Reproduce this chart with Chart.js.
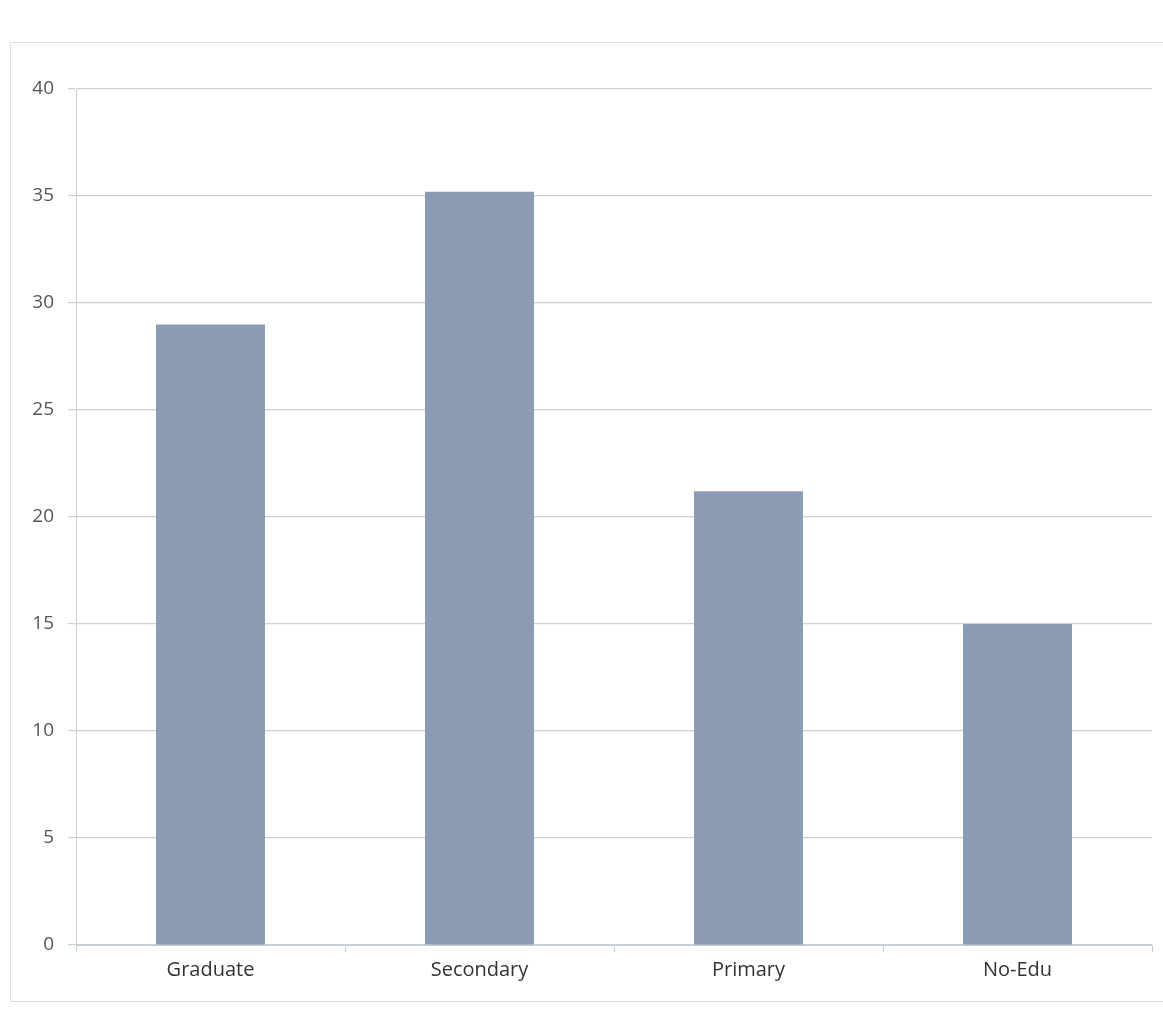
<!DOCTYPE html>
<html>
<head>
<meta charset="utf-8">
<script src="https://cdn.jsdelivr.net/npm/chart.js@4"></script>
<style>
  html, body { margin: 0; padding: 0; background: #ffffff; }
  #wrap { position: relative; width: 1163px; height: 1009px; }
  #frame { position: absolute; left: 10px; top: 42px; width: 1160px; height: 958px;
           border-left: 1px solid #dde2e6; border-top: 1px solid #dde2e6; border-bottom: 1px solid #d5dade;
           pointer-events: none; }
  canvas { position: absolute; left: 0; top: 0; }
</style>
</head>
<body>
<div id="wrap">
  <canvas id="c" width="1163" height="1009"></canvas>
  <div id="frame"></div>
</div>
<script>
const categories = ["Graduate", "Secondary", "Primary", "No-Edu"];
const values = [29.0, 35.2, 21.2, 15.0];
const yTicks = [0, 5, 10, 15, 20, 25, 30, 35, 40];

new Chart(document.getElementById('c'), {
  type: 'bar',
  data: {
    labels: categories,
    datasets: [{
      data: values,
      backgroundColor: '#8b9bb3',
      borderWidth: 0,
      categoryPercentage: 1.0,
      barPercentage: 0.405
    }]
  },
  options: {
    responsive: false,
    animation: false,
    layout: { padding: { left: 14, right: 11, top: 89, bottom: 20 } },
    plugins: { legend: { display: false }, tooltip: { enabled: false } },
    scales: {
      x: {
        grid: { display: true, drawOnChartArea: false, drawTicks: true, tickLength: 7, color: '#c5ccd3', offset: true },
        border: { display: true, color: '#c5ccd3', width: 1 },
        ticks: { color: '#333333', font: { family: 'Open Sans', size: 20 }, padding: 6 },
        afterFit: s => { s.height = 44; }
      },
      y: {
        min: 0, max: 40,
        afterBuildTicks: s => { s.ticks = yTicks.map(v => ({ value: v })); },
        grid: { color: '#c9d0d7', tickLength: 8, lineWidth: 1.2 },
        border: { display: true, color: '#c9d0d7', width: 1 },
        ticks: { color: '#555555', font: { family: 'Open Sans', size: 19 }, padding: 14 },
        afterFit: s => { s.width = 62; }
      }
    }
  }
});
</script>
</body>
</html>
